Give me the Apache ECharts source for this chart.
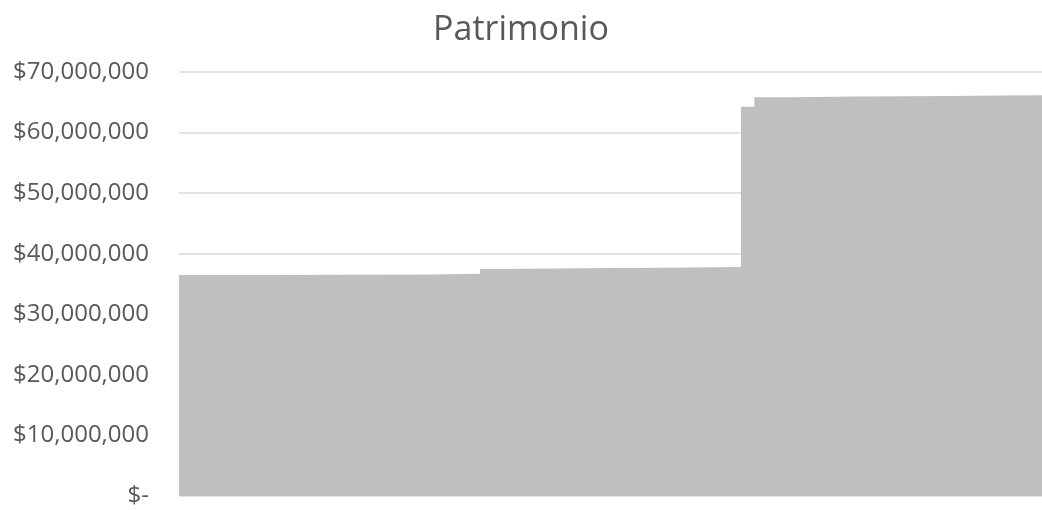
<!DOCTYPE html>
<html>
<head>
<meta charset="utf-8">
<script src="https://cdn.jsdelivr.net/npm/echarts@6/dist/echarts.min.js"></script>
<style>
  html, body { margin: 0; padding: 0; background: #fff; }
  #chart { width: 1042px; height: 510px; }
</style>
</head>
<body>
<div id="chart"></div>
<script>
// day index where the value changes, and the patrimony from that day on
const days = [0, 12, 25, 38, 45, 48, 60, 72, 84, 86, 92, 98, 101, 109, 115, 123, 129]
const values = [
  36500000, 36540000, 36580000, 36680000,
  37480000, 37590000, 37700000, 37800000,
  64250000,
  65850000, 65900000, 65950000, 66000000, 66050000, 66100000, 66170000, 66200000
]
const yTicks = [0, 10000000, 20000000, 30000000, 40000000, 50000000, 60000000, 70000000]

const textColor = '#595959'
const font = '"Open Sans", "Noto Sans", sans-serif'

const chart = echarts.init(document.getElementById('chart'))

// formato contable de Excel: $-  para cero
function money(v) {
  if (v === 0) return '$-'
  return '$' + v.toLocaleString('en-US')
}

chart.setOption({
  animation: false,
  title: {
    text: 'Patrimonio',
    left: 'center',
    top: 8,
    textStyle: {
      fontFamily: font,
      fontSize: 34,
      fontWeight: 'normal',
      color: textColor
    }
  },
  grid: {
    left: 179,
    right: 0,
    top: 72,
    bottom: 14
  },
  xAxis: {
    type: 'value',
    min: days[0],
    max: days[days.length - 1],
    show: false
  },
  yAxis: {
    type: 'value',
    min: yTicks[0],
    max: yTicks[yTicks.length - 1],
    interval: 10000000,
    axisLine: { show: false },
    axisTick: { show: false },
    axisLabel: {
      margin: 30,
      fontFamily: font,
      fontSize: 24,
      color: textColor,
      formatter: money
    },
    splitLine: {
      lineStyle: { color: '#d9d9d9', width: 1.5 }
    }
  },
  series: [{
    type: 'line',
    step: 'end',
    data: days.map((d, i) => [d, values[i]]),
    symbol: 'none',
    lineStyle: { width: 0 },
    areaStyle: { color: '#bfbfbf', opacity: 1 }
  }]
})
</script>
</body>
</html>
